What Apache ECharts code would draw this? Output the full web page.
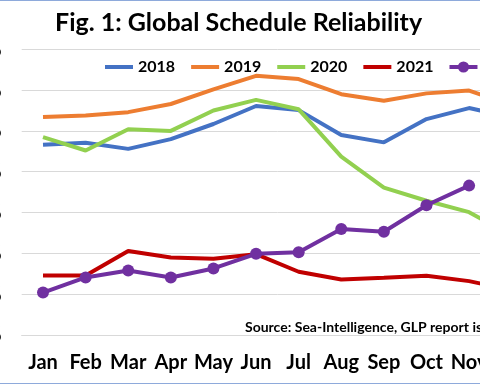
<!DOCTYPE html>
<html>
<head>
<meta charset="utf-8">
<script src="https://cdn.jsdelivr.net/npm/echarts@6/dist/echarts.min.js"></script>
<style>
  html, body { margin: 0; padding: 0; width: 480px; height: 384px; overflow: hidden; background: #fff; position: relative; }
  #chart { position: absolute; left: -60px; top: 0; width: 640px; height: 384px; }
  .bt { position: absolute; left: 0; width: 480px; height: 1px; background: #8eaadb; }
</style>
</head>
<body>
<div id="chart"></div>
<div class="bt" style="top:0"></div>
<div class="bt" style="top:383px"></div>
<script>
const months = ['Jan','Feb','Mar','Apr','May','Jun','Jul','Aug','Sep','Oct','Nov','Dec'];
const seriesNames = ['2018','2019','2020','2021','2022'];
const s2018 = [66.6, 67.1, 65.6, 68.0, 71.7, 76.1, 75.1, 69.0, 67.2, 72.9, 75.6, 73.3];
const s2019 = [73.4, 73.8, 74.6, 76.6, 80.2, 83.5, 82.7, 79.0, 77.4, 79.2, 79.9, 76.3];
const s2020 = [68.5, 65.2, 70.4, 70.0, 75.0, 77.6, 75.3, 63.7, 56.1, 52.9, 50.1, 44.4];
const s2021 = [34.6, 34.6, 40.6, 39.0, 38.7, 39.8, 35.5, 33.6, 34.0, 34.5, 33.2, 31.0];
const s2022 = [30.4, 34.1, 35.8, 34.1, 36.3, 39.9, 40.3, 46.0, 45.3, 51.8, 56.6, null];
const colors = ['#4472C4', '#ED7D31', '#92D050', '#C00000', '#7030A0'];
const allData = [s2018, s2019, s2020, s2021, s2022];

const chart = echarts.init(document.getElementById('chart'));
const font = 'Lato, "Open Sans", sans-serif';
chart.setOption({
  animation: false,
  color: colors,
  title: {
    text: 'Fig. 1: Global Schedule Reliability',
    left: 110, top: 5,
    textStyle: { fontFamily: font, fontWeight: 'bold', fontSize: 25, color: '#000' }
  },
  legend: {
    left: 158, top: 54,
    itemWidth: 28, itemHeight: 14, itemGap: 14,
    lineStyle: { width: 4 },
    textStyle: { fontFamily: font, fontWeight: 'bold', fontSize: 16, color: '#000' },
    data: seriesNames.map((n, i) => i === 4 ? { name: n } : { name: n, itemStyle: { opacity: 0 } })
  },
  grid: { left: 81.7, right: 47, top: 49.3, bottom: 49 },
  xAxis: {
    type: 'category',
    data: months,
    boundaryGap: true,
    axisLine: { lineStyle: { color: '#d9d9d9', width: 1 } },
    axisTick: { inside: true, length: 6, lineStyle: { color: '#d9d9d9' } },
    axisLabel: { margin: 18, fontFamily: font, fontWeight: 'bold', fontSize: 20, color: '#000', interval: 0 }
  },
  yAxis: {
    type: 'value',
    min: 20, max: 90, interval: 10,
    axisLine: { show: false },
    axisTick: { show: false },
    splitLine: { lineStyle: { color: '#d9d9d9', width: 1 } },
    axisLabel: { margin: 20, formatter: '{value}%', fontFamily: font, fontWeight: 'bold', fontSize: 20, color: '#000' }
  },
  graphic: [{
    type: 'text', left: 305, top: 320,
    style: { text: 'Source: Sea-Intelligence, GLP report issue', font: 'bold 14px ' + font, fill: '#000' }
  }],
  series: seriesNames.map((n, i) => ({
    name: n,
    type: 'line',
    data: allData[i],
    symbol: i === 4 ? 'circle' : 'none',
    symbolSize: 12,
    showSymbol: i === 4,
    lineStyle: { width: 4, color: colors[i] },
    itemStyle: { color: colors[i] },
    emphasis: { disabled: true }
  }))
});
</script>
</body>
</html>
